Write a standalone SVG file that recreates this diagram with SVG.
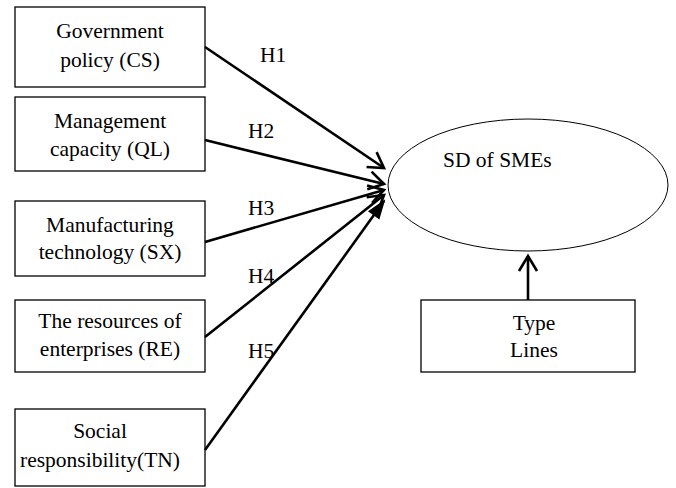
<svg xmlns="http://www.w3.org/2000/svg" width="676" height="488" viewBox="0 0 676 488">
<defs>
<style>
.box{fill:#fff;stroke:#000;stroke-width:1.3}
.t{font-family:'Liberation Serif','Times New Roman',serif;font-size:21.5px;fill:#000}
.c{text-anchor:middle}
.ln{fill:none;stroke:#000;stroke-width:2.6}
</style>
<marker id="open" markerUnits="userSpaceOnUse" viewBox="-20 -12 24 24" refX="0" refY="0" markerWidth="24" markerHeight="24" orient="auto" overflow="visible">
<path d="M-15,-9 L0,0 L-15,9" fill="none" stroke="#000" stroke-width="2.6"/>
</marker>
<marker id="fill" markerUnits="userSpaceOnUse" viewBox="-20 -12 24 24" refX="0" refY="0" markerWidth="24" markerHeight="24" orient="auto" overflow="visible">
<path d="M-17,-6 L0,0 L-17,6 Z" fill="#000" stroke="#000" stroke-width="1.5"/>
</marker>
</defs>
<rect width="676" height="488" fill="#fff"/>
<g id="cs">
<rect class="box" x="15" y="7" width="190" height="80"/>
<text class="t c" x="110" y="38">Government</text>
<text class="t c" x="110" y="67">policy (CS)</text>
</g>
<g id="ql">
<rect class="box" x="15" y="97" width="190" height="74"/>
<text class="t c" x="110" y="128">Management</text>
<text class="t c" x="110" y="156">capacity (QL)</text>
</g>
<g id="sx">
<rect class="box" x="15" y="201" width="190" height="75"/>
<text class="t c" x="110" y="232">Manufacturing</text>
<text class="t c" x="110" y="259">technology (SX)</text>
</g>
<g id="re">
<rect class="box" x="15" y="300" width="190" height="72"/>
<text class="t c" x="110" y="328">The resources of</text>
<text class="t c" x="110" y="356">enterprises (RE)</text>
</g>
<g id="tn">
<rect class="box" x="15" y="409" width="190" height="77"/>
<text class="t c" x="100" y="438">Social</text>
<text class="t c" x="100" y="467">responsibility(TN)</text>
</g>
<g id="sd">
<ellipse cx="528" cy="185" rx="140" ry="66" fill="#fff" stroke="#000" stroke-width="1"/>
<text class="t" x="443" y="167">SD of SMEs</text>
</g>
<g id="type">
<rect class="box" x="421" y="300" width="214" height="72"/>
<text class="t c" x="534" y="330">Type</text>
<text class="t c" x="534" y="357">Lines</text>
</g>
<g id="connectors">
<line class="ln" x1="205" y1="47" x2="384" y2="168" marker-end="url(#open)"/>
<line class="ln" x1="205" y1="140" x2="384" y2="184" marker-end="url(#open)"/>
<line class="ln" x1="205" y1="242" x2="384" y2="190" marker-end="url(#open)"/>
<line class="ln" x1="205" y1="337" x2="384" y2="195" marker-end="url(#open)"/>
<line class="ln" x1="205" y1="450" x2="384" y2="201" marker-end="url(#fill)"/>
<line class="ln" x1="528" y1="300" x2="528" y2="256" marker-end="url(#open)"/>
<text class="t" x="260" y="62">H1</text>
<text class="t" x="248" y="138">H2</text>
<text class="t" x="248" y="215">H3</text>
<text class="t" x="248" y="283">H4</text>
<text class="t" x="248" y="358">H5</text>
</g>
</svg>
